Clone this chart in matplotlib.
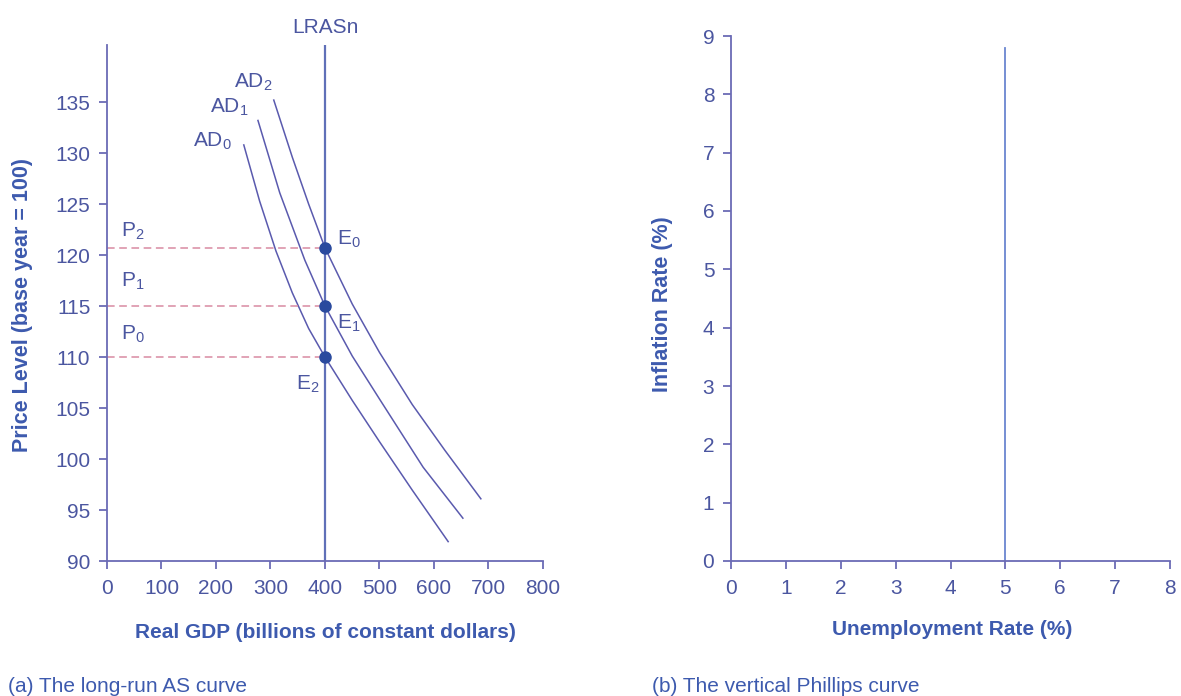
import numpy as np
import matplotlib.pyplot as plt

plt.rcParams['font.family'] = ['Liberation Sans', 'DejaVu Sans']
plt.rcParams['mathtext.fontset'] = 'custom'
plt.rcParams['mathtext.rm'] = 'Liberation Sans'
plt.rcParams['mathtext.it'] = 'Liberation Sans'

# panel (a) data
gdp_ticks = [0, 100, 200, 300, 400, 500, 600, 700, 800]
price_ticks = [90, 95, 100, 105, 110, 115, 120, 125, 130, 135]
ad0_x = [251, 280, 310, 340, 370, 400, 450, 500, 560, 626]
ad0_y = [130.8, 125.3, 120.4, 116.3, 112.8, 110.0, 105.75, 101.7, 96.96, 91.9]
ad1_x = [277, 317, 363, 400, 450, 501, 580, 653]
ad1_y = [133.2, 126.1, 119.5, 115.0, 110.1, 105.8, 99.2, 94.2]
ad2_x = [306, 340, 370, 400, 450, 500, 560, 620, 686]
ad2_y = [135.2, 129.6, 125.0, 120.7, 115.2, 110.45, 105.35, 100.85, 96.1]
lras_x = 400
eq_y = [120.7, 115.0, 110.0]   # E0, E1, E2
eq_names = ['E$_0$', 'E$_1$', 'E$_2$']
p_names = ['P$_2$', 'P$_1$', 'P$_0$']

# panel (b) data
unemp_ticks = [0, 1, 2, 3, 4, 5, 6, 7, 8]
infl_ticks = [0, 1, 2, 3, 4, 5, 6, 7, 8, 9]
phillips_x = 5
phillips_top = 8.8

axis_c = '#6b6bb5'
tick_c = '#4b56a0'
lab_c = '#3d5aae'
curve_c = '#5a5aae'
dash_c = '#d88aa2'
dot_c = '#2a4a9e'

fig = plt.figure(figsize=(11.81, 6.96), dpi=100)
ax1 = fig.add_axes([107/1181, 135/696, 436/1181, 516/696])
ax2 = fig.add_axes([731/1181, 135/696, 439/1181, 525/696])

for ax in (ax1, ax2):
    for s in ['top', 'right']:
        ax.spines[s].set_visible(False)
    for s in ['left', 'bottom']:
        ax.spines[s].set_color(axis_c)
        ax.spines[s].set_linewidth(1.3)
    ax.tick_params(colors=axis_c, labelcolor=tick_c, labelsize=15, length=6, width=1.3)
    ax.tick_params(axis='x', pad=7)
    ax.tick_params(axis='y', pad=6)

# ---- panel (a)
ax1.set_xlim(0, 800)
ax1.set_ylim(90, 140.6)
ax1.set_xticks(gdp_ticks)
ax1.set_yticks(price_ticks)

ax1.plot(ad0_x, ad0_y, color=curve_c, lw=1.1)
ax1.plot(ad1_x, ad1_y, color=curve_c, lw=1.1)
ax1.plot(ad2_x, ad2_y, color=curve_c, lw=1.1)
ax1.axvline(lras_x, color='#6070b8', lw=1.6)
for y in eq_y:
    ax1.plot([0, lras_x], [y, y], color=dash_c, lw=1.1, dashes=(5, 3))
ax1.plot([lras_x] * 3, eq_y, 'o', color=dot_c, ms=8, zorder=5)

ax1.text(lras_x, 141.8, 'LRASn', color=tick_c, fontsize=15, ha='center', va='baseline', clip_on=False)
ax1.text(233, 136.4, 'AD$_2$', color=tick_c, fontsize=15, va='baseline')
ax1.text(189, 134.0, 'AD$_1$', color=tick_c, fontsize=15, va='baseline')
ax1.text(158, 130.6, 'AD$_0$', color=tick_c, fontsize=15, va='baseline')
for name, yb in zip(p_names, [121.8, 116.9, 111.7]):
    ax1.text(26, yb, name, color=tick_c, fontsize=15, va='baseline')
ax1.text(422, 121.0, eq_names[0], color=tick_c, fontsize=15, va='baseline')
ax1.text(422, 112.8, eq_names[1], color=tick_c, fontsize=15, va='baseline')
ax1.text(347, 106.8, eq_names[2], color=tick_c, fontsize=15, va='baseline')

ax1.set_xlabel('Real GDP (billions of constant dollars)', color=lab_c, fontsize=15, fontweight='bold')
ax1.set_ylabel('Price Level (base year = 100)', color=lab_c, fontsize=15.5, fontweight='bold')
ax1.xaxis.set_label_coords(0.502, -0.121)
ax1.yaxis.set_label_coords(-0.17, 0.496)

# ---- panel (b)
ax2.set_xlim(0, 8)
ax2.set_ylim(0, 9)
ax2.set_xticks(unemp_ticks)
ax2.set_yticks(infl_ticks)
ax2.plot([phillips_x, phillips_x], [0, phillips_top], color='#6a86d0', lw=1.3)
ax2.set_xlabel('Unemployment Rate (%)', color=lab_c, fontsize=15, fontweight='bold')
ax2.set_ylabel('Inflation Rate (%)', color=lab_c, fontsize=15.5, fontweight='bold')
ax2.xaxis.set_label_coords(0.503, -0.112)
ax2.yaxis.set_label_coords(-0.132, 0.49)

fig.text(8/1181, 10/696, '(a) The long-run AS curve', color=lab_c, fontsize=15, va='center')
fig.text(652/1181, 10/696, '(b) The vertical Phillips curve', color=lab_c, fontsize=15, va='center')

fig.savefig('out.png', dpi=100)
